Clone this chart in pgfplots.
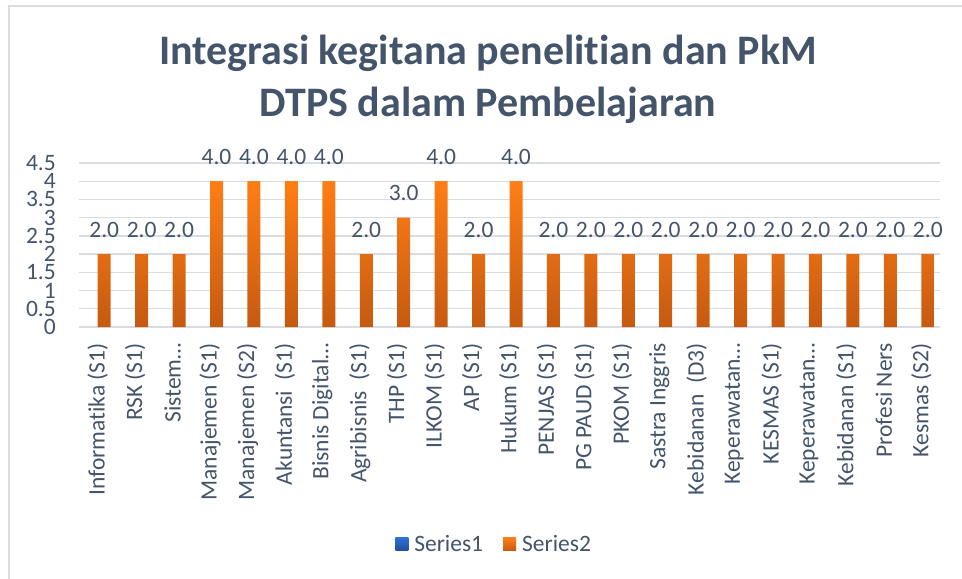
\documentclass[border=0pt]{standalone}
\usepackage{fontspec}
\setmainfont{Carlito}[Ligatures=NoCommon]
\usepackage{pgfplots}
\pgfplotsset{compat=1.18}
\definecolor{txt}{HTML}{44546A}
\definecolor{gridc}{HTML}{D9DDE3}
\definecolor{orTop}{HTML}{FF7E15}
\definecolor{orBot}{HTML}{C55A11}
\definecolor{blTop}{HTML}{2F6FD6}
\definecolor{blBot}{HTML}{1F4E99}
\begin{document}
\begin{tikzpicture}
\path[use as bounding box] (0,0) rectangle (962bp,579bp);
\draw[gridc, line width=2bp] (9bp,0) -- (9bp,573bp) -- (962bp,573bp);
\node[txt, anchor=base, font=\fontsize{42bp}{50bp}\selectfont\bfseries, inner sep=0pt] at (488bp,514bp) {Integrasi kegitana penelitian dan PkM};
\node[txt, anchor=base, font=\fontsize{42bp}{50bp}\selectfont\bfseries, inner sep=0pt] at (488bp,462bp) {DTPS dalam Pembelajaran};
\begin{axis}[
  at={(79bp,252bp)}, anchor=south west,
  scale only axis, width=861bp, height=164bp,
  xmin=-0.5, xmax=22.5, ymin=0, ymax=4.5,
  ytick={0,0.5,...,4.5},
  xtick={0,...,22},
  xticklabels={{Informatika (S1)},{RSK (S1)},{Sistem…},{Manajemen (S1)},{Manajemen (S2)},{Akuntansi~ (S1)},{Bisnis Digital…},{Agribisnis~ (S1)},{THP (S1)},{ILKOM (S1)},{AP (S1)},{Hukum (S1)},{PENJAS (S1)},{PG PAUD (S1)},{PKOM (S1)},{Sastra Inggris},{Kebidanan~ (D3)},{Keperawatan…},{KESMAS (S1)},{Keperawatan…},{Kebidanan (S1)},{Profesi Ners},{Kesmas (S2)}},
  major tick length=0pt,
  axis line style={draw=none},
  xmajorgrids=false, ymajorgrids=true,
  major grid style={gridc, line width=1.3bp},
  /pgf/number format/assume math mode=true,
  tick label style={txt, font=\fontsize{23.5bp}{28bp}\selectfont},
  yticklabel style={anchor=east, inner sep=0pt, xshift=-23bp},
  xticklabel style={yshift=-16bp, rotate=90, anchor=east, inner sep=0pt},
  ybar=0pt, bar width=13bp,
  clip=false,
  legend columns=2,
  legend style={at={(0.481,-1.323)}, anchor=center, draw=none, fill=none, inner sep=0pt,
    font=\fontsize{23.5bp}{28bp}\selectfont, text=txt,
    nodes={inner sep=0pt},
    /tikz/every odd column/.append style={column sep=6bp},
    /tikz/every even column/.append style={column sep=20bp}},
  legend image code/.code={\path[#1] (0bp,-7bp) rectangle (13bp,6bp);},
]
\addplot[draw=none, top color=blTop, bottom color=blBot] coordinates {
(0,0) (1,0) (2,0) (3,0) (4,0) (5,0) (6,0) (7,0) (8,0) (9,0) (10,0) (11,0)
(12,0) (13,0) (14,0) (15,0) (16,0) (17,0) (18,0) (19,0) (20,0) (21,0) (22,0)};
\addlegendentry{Series1}
\addplot[draw=none, top color=orTop, bottom color=orBot,
  nodes near coords,
  every node near coord/.append style={txt, font=\fontsize{23.5bp}{28bp}\selectfont, anchor=base, inner sep=0pt, yshift=17bp,
    /pgf/number format/.cd, fixed, fixed zerofill, precision=1, assume math mode=true}] coordinates {
(0,2) (1,2) (2,2) (3,4) (4,4) (5,4) (6,4) (7,2) (8,3) (9,4) (10,2) (11,4)
(12,2) (13,2) (14,2) (15,2) (16,2) (17,2) (18,2) (19,2) (20,2) (21,2) (22,2)};
\addlegendentry{Series2}
\end{axis}
\end{tikzpicture}
\end{document}
